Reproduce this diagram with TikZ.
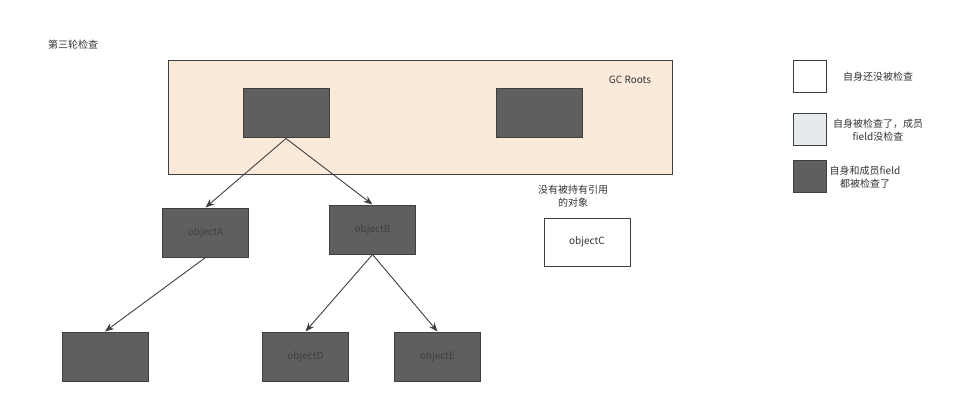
\documentclass[tikz,border=0pt]{standalone}
\usepackage{fontspec}
\setmainfont{Noto Sans CJK SC}
\usetikzlibrary{arrows.meta}
\definecolor{darkfill}{HTML}{5F5F5F}
\definecolor{darkline}{HTML}{3F3F3F}
\definecolor{peach}{HTML}{FBE9DA}
\definecolor{lightfill}{HTML}{E6EAEE}
\definecolor{txt}{HTML}{333333}
\begin{document}
\begin{tikzpicture}[x=1pt,y=-1pt,
  every node/.style={font=\fontsize{10}{12}\selectfont, text=txt},
  darkbox/.style={draw=darkline, line width=1pt, fill=darkfill, minimum width=86pt, minimum height=49pt, inner sep=0pt, text=darkline},
  whitebox/.style={draw=darkline, line width=1pt, fill=white, minimum width=86pt, minimum height=48pt, inner sep=0pt},
  legbox/.style={draw=darkline, line width=1pt, minimum width=33pt, minimum height=32pt, inner sep=0pt},
  label/.style={align=center, inner sep=0pt, font=\fontsize{10}{13}\selectfont},
  arr/.style={draw=darkline, line width=0.9pt, -{Stealth[length=9pt,width=7pt]}}
]
\useasboundingbox (0,0) rectangle (977,409);
\node[label] (title) at (73,45) {第三轮检查};
\node[draw=darkline, line width=1pt, fill=peach, minimum width=504pt, minimum height=113pt, inner sep=0pt] (gc) at (420,117.5) {};
\node[label] (gclabel) at (630,80) {GC Roots};
\node[darkbox] (r1) at (286,113.5) {};
\node[darkbox] (r2) at (539.5,113.5) {};
\node[darkbox] (a) at (205.5,232.5) {objectA};
\node[darkbox] (b) at (372.5,229.5) {objectB};
\node[whitebox] (c) at (587,242) {objectC};
\node[label] (cl) at (573,196) {没有被持有引用\\的对象};
\node[darkbox] (x) at (105,356.5) {};
\node[darkbox] (d) at (305.5,356.5) {objectD};
\node[darkbox] (e) at (437.5,356.5) {objectE};
\draw[arr] (r1.south) -- (a.north);
\draw[arr] (r1.south) -- (b.north);
\draw[arr] (a.south) -- (x.north);
\draw[arr] (b.south) -- (d.north);
\draw[arr] (b.south) -- (e.north);
\node[legbox, fill=white] (l1) at (809.5,77) {};
\node[legbox, fill=lightfill] (l2) at (809.5,130) {};
\node[legbox, fill=darkfill] (l3) at (809.5,176.5) {};
\node[label] (t1) at (878,77) {自身还没被检查};
\node[label] (t2) at (878,130) {自身被检查了，成员\\field没检查};
\node[label] (t3) at (865,177) {自身和成员field\\都被检查了};
\end{tikzpicture}
\end{document}
